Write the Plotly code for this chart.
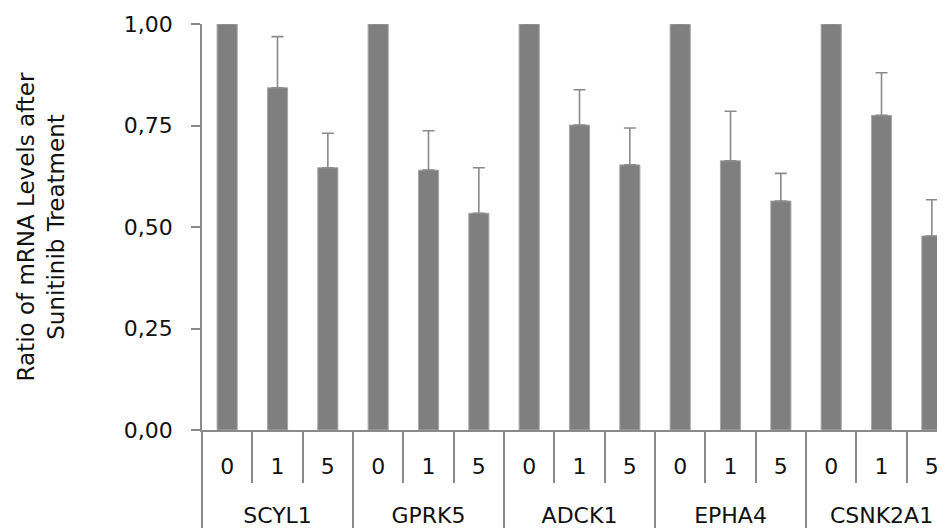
import plotly.graph_objects as go

genes = ["SCYL1", "GPRK5", "ADCK1", "EPHA4", "CSNK2A1"]
doses = ["0", "1", "5"]
values = [1.00, 0.843, 0.646,
          1.00, 0.640, 0.534,
          1.00, 0.751, 0.653,
          1.00, 0.663, 0.564,
          1.00, 0.775, 0.478]
errors = [0.0, 0.126, 0.085,
          0.0, 0.097, 0.112,
          0.0, 0.087, 0.091,
          0.0, 0.122, 0.068,
          0.0, 0.105, 0.089]

# inner labels carry an invisible tall spacer line so that the gene row sits lower
SPACER = "<br><span style='font-size:54px'>&nbsp;</span>"
x_outer = [g for g in genes for _ in doses]
x_inner = [d + SPACER for _ in genes for d in doses]

FONT = "DejaVu Sans"
AX = "#8a8a8a"
TXT = "#111111"

fig = go.Figure()
fig.add_trace(go.Bar(
    x=[x_outer, x_inner],
    y=values,
    width=0.4,
    marker=dict(color="#7f7f7f", line=dict(color="#a8a8a8", width=1)),
    error_y=dict(type="data", array=errors, arrayminus=[0] * len(errors),
                 symmetric=False, color=AX, thickness=1.6, width=6),
    cliponaxis=False,
))

fig.update_layout(
    width=945, height=528,
    margin=dict(l=194, r=0, t=16, b=106),
    paper_bgcolor="white", plot_bgcolor="white",
    separators=",.",
    showlegend=False,
    font=dict(family=FONT, size=22, color=TXT),
)
fig.update_yaxes(
    range=[0, 1], tickvals=[0, 0.25, 0.5, 0.75, 1.0], tickformat=".2f",
    showgrid=False, zeroline=False,
    showline=True, linecolor=AX, linewidth=1.5,
    ticks="outside", ticklen=9, tickcolor=AX, tickwidth=1.5,
    ticklabelstandoff=14,
    tickfont=dict(family=FONT, size=22, color=TXT),
    title=dict(text="Ratio of mRNA Levels after<br>Sunitinib Treatment",
               font=dict(family=FONT, size=23, color=TXT), standoff=53),
)
fig.update_xaxes(
    type="multicategory",
    range=[-0.5, 14.42],
    showgrid=False, zeroline=False,
    showline=True, linecolor=AX, linewidth=1.5,
    ticks="outside", ticklen=51, tickcolor=AX, tickwidth=1.5,
    tickson="boundaries",
    ticklabelstandoff=16,
    showdividers=True, dividercolor=AX, dividerwidth=1.5,
    tickfont=dict(family=FONT, size=22, color=TXT),
)

fig.write_html("out.html")
